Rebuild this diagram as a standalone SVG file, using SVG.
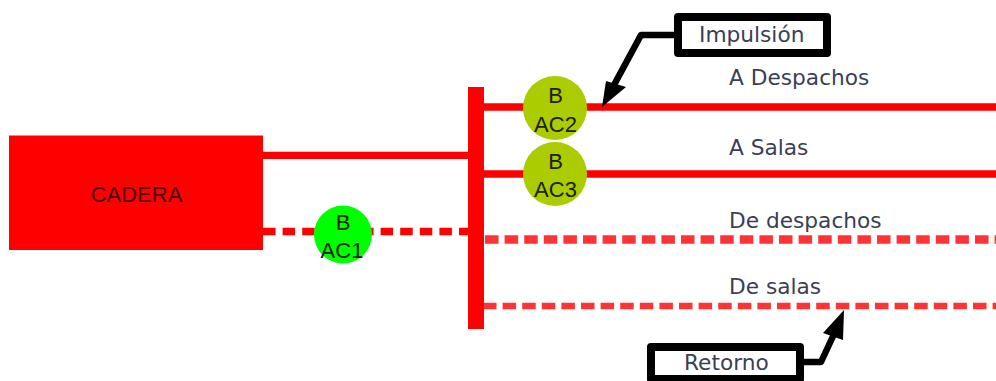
<svg xmlns="http://www.w3.org/2000/svg" width="996" height="381" viewBox="0 0 996 381">
<style>
.solid{stroke:#ff0000;fill:none;stroke-width:7.300}
.dash{stroke:#ff3333;fill:none;stroke-dasharray:13.500 6.100}
.lbl{font-family:"DejaVu Sans",Verdana,sans-serif;font-size:21.700px;fill:#3a3f55}
.n{font-family:"Liberation Sans",Arial,sans-serif;font-size:22px;fill:#1a2000;text-anchor:middle}
.box{fill:#fff;stroke:#000;stroke-width:8;stroke-linejoin:round}
.lead{fill:none;stroke:#000;stroke-width:6.500;stroke-linejoin:round}
</style>
<g id="connectors">
<path class="solid" d="M263 155.300H470"/>
<path stroke="#ff0000" fill="none" stroke-width="7.300" stroke-dasharray="12.500 7.100" d="M263 231.500H470"/>
<path class="solid" d="M484 107H996"/>
<path class="solid" d="M484 174H996"/>
<path class="dash" stroke-width="8.500" d="M485 239.500H996"/>
<path class="dash" stroke-width="6.500" d="M483 306H996"/>
<path class="lead" d="M676 35H641L614 85"/>
<path d="M602 107L606 81L626 87Z" fill="#000"/>
<path class="lead" d="M802 362H821L835 332"/>
<path d="M844 310L823 333L843 340Z" fill="#000"/>
</g>
<g id="bar"><rect x="468" y="87" width="16" height="242" fill="#ff0000"/></g>
<g id="cadera"><rect x="9" y="135.500" width="254" height="114.500" fill="#ff0000"/>
<text x="136.500" y="202" class="n" style="fill:#4a0000">CADERA</text></g>
<g id="bac1"><circle cx="343" cy="234.500" r="29" fill="#00ff00"/>
<text x="343" y="230" class="n">B</text><text x="342" y="258" class="n">AC1</text></g>
<g id="bac2"><circle cx="555" cy="108" r="32" fill="#aacc00"/>
<text x="555.500" y="103" class="n">B</text><text x="555.500" y="132" class="n">AC2</text></g>
<g id="bac3"><circle cx="555" cy="174" r="32" fill="#aacc00"/>
<text x="555.500" y="169" class="n">B</text><text x="555.500" y="197" class="n">AC3</text></g>
<g id="impulsion"><rect class="box" x="678" y="17" width="149" height="36"/>
<text x="699" y="42" class="lbl">Impulsión</text></g>
<g id="retorno"><rect class="box" x="651" y="347" width="149" height="32"/>
<text x="684" y="370" class="lbl">Retorno</text></g>
<g id="labels">
<text x="729" y="85" class="lbl">A Despachos</text>
<text x="729" y="155" class="lbl">A Salas</text>
<text x="729" y="228" class="lbl">De despachos</text>
<text x="729" y="294" class="lbl">De salas</text>
</g>
</svg>
